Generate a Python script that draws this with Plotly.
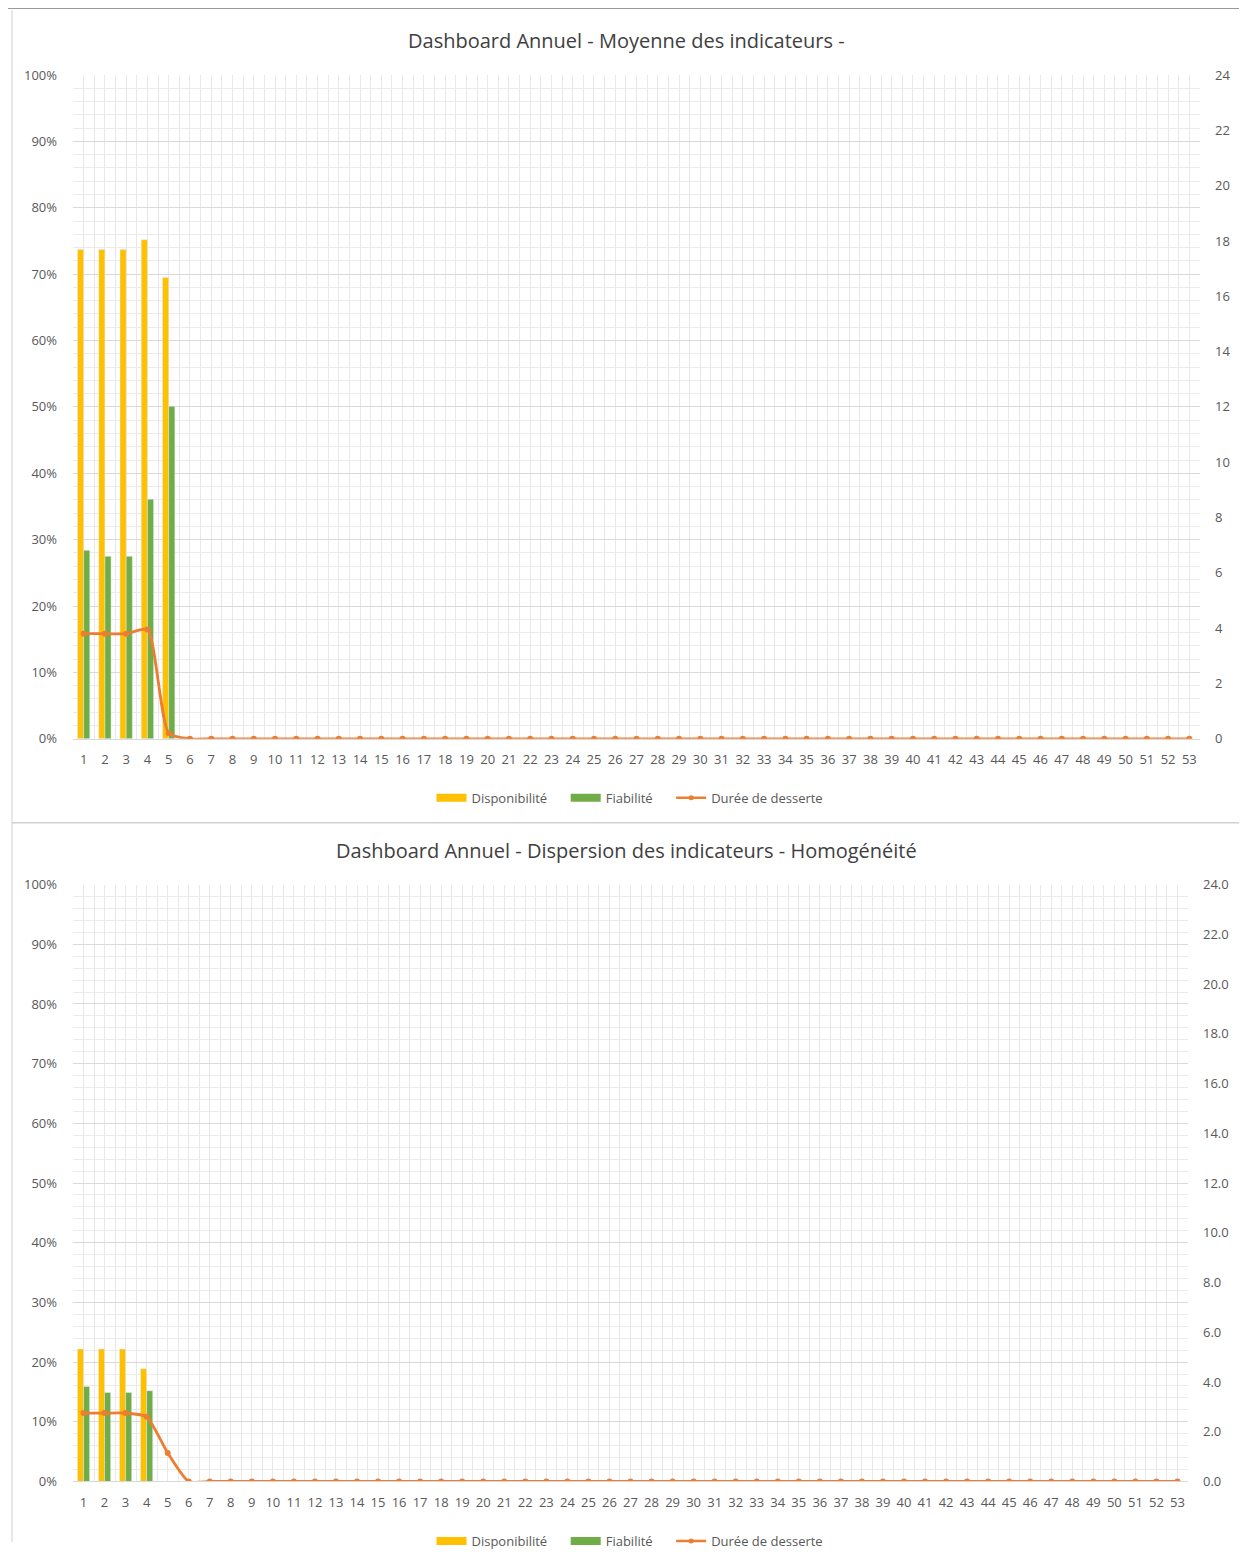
import plotly.graph_objects as go

PAGE_W, PAGE_H = 1247, 1564
BODY = 8  # default page margin around the plot div
W, H = PAGE_W - 2 * BODY, PAGE_H - 2 * BODY

weeks = list(range(1, 54))

# Top chart: Moyenne des indicateurs
top_dispo = [0.737, 0.737, 0.737, 0.752, 0.695]
top_fiab = [0.284, 0.275, 0.275, 0.361, 0.501]
top_duree = [3.8, 3.8, 3.8, 3.95, 0.2] + [0] * 48

# Bottom chart: Dispersion des indicateurs
bot_dispo = [0.222, 0.222, 0.222, 0.189]
bot_fiab = [0.159, 0.149, 0.149, 0.152]
bot_duree = [2.75, 2.75, 2.75, 2.6, 1.15] + [0] * 48

titles = ["Dashboard Annuel - Moyenne des indicateurs -",
          "Dashboard Annuel - Dispersion des indicateurs - Homogénéité"]
series_names = ["Disponibilité", "Fiabilité", "Durée de desserte"]

C_DISPO = "#FFC000"
C_FIAB = "#70AD47"
C_DUREE = "#ED7D31"
TXT = "#595959"
FONT = "Open Sans"

# empirical vertical correction of the photographed page
VS, VO = 0.9869, 9.0


def py(pix):
    p = (pix - VO) / VS
    return 1 - (p - BODY) / H


def px(pix):
    return (pix - BODY) / W


fig = go.Figure()
NB = "\u00a0" * 4


def add_chart(dispo, fiab, duree, xa, ya, ya2, leg):
    fig.add_trace(go.Bar(x=weeks[:len(dispo)], y=dispo, name=series_names[0],
                         marker_color=C_DISPO, xaxis=xa, yaxis=ya, showlegend=False))
    fig.add_trace(go.Bar(x=weeks[:len(fiab)], y=fiab, name=series_names[1],
                         marker_color=C_FIAB, xaxis=xa, yaxis=ya, showlegend=False))
    fig.add_trace(go.Scatter(x=weeks, y=duree, name=series_names[2], mode="lines+markers",
                             line=dict(color=C_DUREE, width=2.8, shape="spline", smoothing=0.6),
                             marker=dict(color=C_DUREE, size=6),
                             xaxis=xa, yaxis=ya2, showlegend=False))
    # legend entries (Excel-style wide swatches)
    fig.add_trace(go.Scatter(x=[None], y=[None], name=series_names[0] + NB, mode="lines",
                             line=dict(color=C_DISPO, width=8), xaxis=xa, yaxis=ya, legend=leg))
    fig.add_trace(go.Scatter(x=[None], y=[None], name=series_names[1] + NB, mode="lines",
                             line=dict(color=C_FIAB, width=8), xaxis=xa, yaxis=ya, legend=leg))
    fig.add_trace(go.Scatter(x=[None], y=[None], name=series_names[2], mode="lines+markers",
                             line=dict(color=C_DUREE, width=2.5),
                             marker=dict(color=C_DUREE, size=5),
                             xaxis=xa, yaxis=ya2, legend=leg))


add_chart(top_dispo, top_fiab, top_duree, "x", "y", "y2", "legend")
add_chart(bot_dispo, bot_fiab, bot_duree, "x3", "y3", "y4", "legend2")

half = [w - 0.5 for w in weeks] + [53.5]


def xaxis(dom, anchor):
    return dict(domain=dom, anchor=anchor, range=[0.5, 53.5], tickmode="array",
                tickvals=weeks, ticktext=[str(w) for w in weeks],
                showgrid=True, gridcolor="#e8e8e8", gridwidth=1,
                minor=dict(tickmode="array", tickvals=half, showgrid=True,
                           gridcolor="#e8e8e8", gridwidth=1),
                showline=True, linecolor="#d9d9d9", linewidth=1,
                zeroline=False, ticks="", ticklabelstandoff=9,
                tickfont=dict(family=FONT, size=13, color=TXT))


def yaxis(dom, anchor):
    return dict(domain=dom, anchor=anchor, range=[0, 1], dtick=0.1, tickformat=".0%",
                showgrid=True, gridcolor="#d9d9d9", gridwidth=1,
                minor=dict(dtick=0.02, showgrid=True, gridcolor="#ebebeb", gridwidth=1),
                zeroline=False, ticks="", ticklabelstandoff=15,
                tickfont=dict(family=FONT, size=13, color=TXT))


def y2axis(overlay, anchor, fmt):
    return dict(overlaying=overlay, anchor=anchor, side="right", range=[0, 24], dtick=2,
                tickformat=fmt, showgrid=False, zeroline=False, ticks="",
                ticklabelstandoff=14, tickfont=dict(family=FONT, size=13, color=TXT))


top_x = [px(73), px(1200)]
top_y = [py(740), py(75)]
bot_x = [px(73), px(1188)]
bot_y = [py(1484), py(886)]

legend_common = dict(orientation="h", xanchor="center", yanchor="middle",
                     font=dict(family=FONT, size=13, color=TXT),
                     bgcolor="rgba(0,0,0,0)", itemwidth=30, traceorder="normal",
                     tracegroupgap=0)

fig.update_layout(
    width=W, height=H,
    margin=dict(l=0, r=0, t=0, b=0),
    paper_bgcolor="white", plot_bgcolor="white",
    barmode="group", bargap=0.42, bargroupgap=0,
    xaxis=xaxis(top_x, "y"),
    yaxis=yaxis(top_y, "x"),
    yaxis2=y2axis("y", "x", "d"),
    xaxis3=xaxis(bot_x, "y3"),
    yaxis3=yaxis(bot_y, "x3"),
    yaxis4=y2axis("y3", "x3", ".1f"),
    legend=dict(x=px(630), y=py(799), **legend_common),
    legend2=dict(x=px(630), y=py(1544), **legend_common),
    font=dict(family=FONT, color=TXT),
    annotations=[
        dict(text=titles[0], x=px(626), y=py(40), xref="paper", yref="paper",
             showarrow=False, xanchor="center", yanchor="middle",
             font=dict(family=FONT, size=20, color="#404040")),
        dict(text=titles[1], x=px(626), y=py(852), xref="paper", yref="paper",
             showarrow=False, xanchor="center", yanchor="middle",
             font=dict(family=FONT, size=20, color="#404040")),
    ],
    shapes=[
        dict(type="line", xref="paper", yref="paper", x0=0, x1=1, y0=py(8), y1=py(8),
             line=dict(color="#9a9a9a", width=2)),
        dict(type="line", xref="paper", yref="paper", x0=px(12), x1=px(12), y0=0, y1=py(10),
             line=dict(color="#d0d0d0", width=1)),
        dict(type="line", xref="paper", yref="paper", x0=px(1243), x1=px(1243), y0=0, y1=py(10),
             line=dict(color="#d0d0d0", width=1)),
        dict(type="line", xref="paper", yref="paper", x0=px(12), x1=px(1243), y0=py(824), y1=py(824),
             line=dict(color="#d0d0d0", width=1.5)),
    ],
)

fig.write_html("out.html")
